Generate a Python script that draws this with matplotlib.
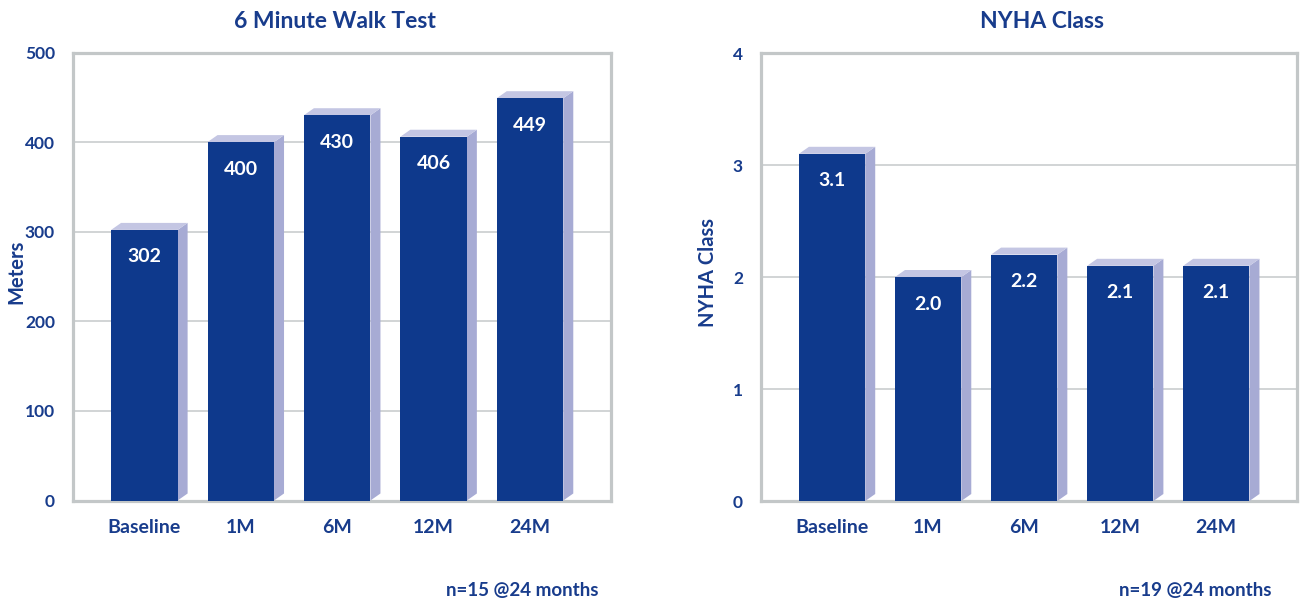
import matplotlib
matplotlib.use("Agg")
import matplotlib.pyplot as plt
from matplotlib.patches import Polygon

plt.rcParams['font.family'] = ['Lato', 'DejaVu Sans']
plt.rcParams['font.weight'] = 'bold'

# data
visits = ["Baseline", "1M", "6M", "12M", "24M"]
walk_m = [302, 400, 430, 406, 449]
walk_labels = ["302", "400", "430", "406", "449"]
nyha = [3.1, 2.0, 2.2, 2.1, 2.1]
nyha_labels = ["3.1", "2.0", "2.2", "2.1", "2.1"]
walk_ticks = [0, 100, 200, 300, 400, 500]
nyha_ticks = [0, 1, 2, 3, 4]

NAVY = "#183c8c"
FRONT = "#0e398c"
SIDE = "#a7abd4"
TOP = "#c4c6e3"
FRAME = "#c3c7c8"
GRID = "#c9cdce"

W, H = 1304, 601
fig = plt.figure(figsize=(W / 100, H / 100), dpi=100)
fig.patch.set_facecolor("white")


def bars3d(ax, vals, labels, ymax, ticks, ylabel, ylab_x, bar_w=0.69, dx_px=10, dy_px=7):
    ax.set_xlim(-0.74, 4.84)
    ax.set_ylim(0, ymax)
    fig.canvas.draw()
    bb = ax.get_window_extent()
    # depth of the fake 3d faces, converted from pixels to data units
    dx = dx_px * (4.84 + 0.74) / bb.width
    dy = dy_px * ymax / bb.height

    for i, v in enumerate(vals):
        l, r = i - bar_w / 2, i + bar_w / 2
        ax.add_patch(Polygon([(r, 0), (r + dx, dy), (r + dx, v + dy), (r, v)],
                             closed=True, fc=SIDE, ec="none", zorder=3))
        ax.add_patch(Polygon([(l, v), (l + dx, v + dy), (r + dx, v + dy), (r, v)],
                             closed=True, fc=TOP, ec="none", zorder=3))
        ax.add_patch(Polygon([(l, 0), (r, 0), (r, v), (l, v)],
                             closed=True, fc=FRONT, ec="none", zorder=4))
        ax.annotate(labels[i], (i, v), xytext=(0, -19.5), textcoords="offset points",
                    ha="center", va="center", color="white", fontsize=14,
                    fontweight="bold", zorder=5)

    ax.set_yticks(ticks)
    ax.set_yticklabels([str(t) for t in ticks])
    ax.set_xticks(range(len(visits)))
    ax.set_xticklabels(visits)
    ax.tick_params(axis="both", length=0, colors=NAVY)
    ax.tick_params(axis="y", pad=13, labelsize=12.5)
    ax.tick_params(axis="x", pad=13, labelsize=14)
    for lab in ax.get_xticklabels() + ax.get_yticklabels():
        lab.set_fontweight("bold")
    ax.yaxis.grid(True, color=GRID, lw=1.2, zorder=1)
    ax.set_axisbelow(True)
    for s in ax.spines.values():
        s.set_color(FRAME)
        s.set_linewidth(2.3)
    ax.set_ylabel(ylabel, color=NAVY, fontsize=14.5, fontweight="bold", va="center")
    ax.yaxis.set_label_coords(ylab_x, 0.51)


ax1 = fig.add_axes([73 / W, 1 - 500.5 / H, 538 / W, 448 / H])
bars3d(ax1, walk_m, walk_labels, 500, walk_ticks, "Meters", (16 - 73) / 538)

ax2 = fig.add_axes([761 / W, 1 - 501 / H, 536 / W, 448 / H])
bars3d(ax2, nyha, nyha_labels, 4, nyha_ticks, "NYHA Class", (708 - 761) / 536)

fig.text(335 / W, 1 - 22 / H, "6 Minute Walk Test", ha="center", va="center",
         color=NAVY, fontsize=16.5, fontweight="bold")
fig.text(1042 / W, 1 - 22 / H, "NYHA Class", ha="center", va="center",
         color=NAVY, fontsize=16.5, fontweight="bold")
fig.text(522 / W, 1 - 591 / H, "n=15 @24 months", ha="center", va="center",
         color=NAVY, fontsize=13.5, fontweight="bold")
fig.text(1195 / W, 1 - 591 / H, "n=19 @24 months", ha="center", va="center",
         color=NAVY, fontsize=13.5, fontweight="bold")

fig.savefig("out.png", dpi=100)
